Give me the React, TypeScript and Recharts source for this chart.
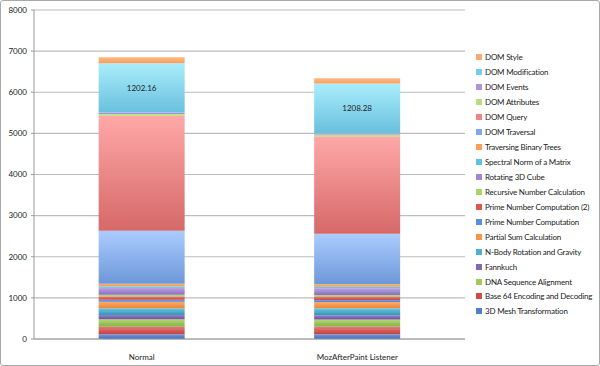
import React from 'react';
import { BarChart, Bar, XAxis, YAxis, CartesianGrid, Legend, LabelList } from 'recharts';

const categories = ['Normal', 'MozAfterPaint Listener'];

// stacked from the bottom up
const seriesNames = [
  '3D Mesh Transformation',
  'Base 64 Encoding and Decoding',
  'DNA Sequence Alignment',
  'Fannkuch',
  'N-Body Rotation and Gravity',
  'Partial Sum Calculation',
  'Prime Number Computation',
  'Prime Number Computation (2)',
  'Recursive Number Calculation',
  'Rotating 3D Cube',
  'Spectral Norm of a Matrix',
  'Traversing Binary Trees',
  'DOM Traversal',
  'DOM Query',
  'DOM Attributes',
  'DOM Events',
  'DOM Modification',
  'DOM Style',
];

const normalValues = [115, 185, 180, 105, 165, 155, 50, 80, 40, 170, 35, 65, 1290, 2791, 48, 32, 1202.16, 145];
const mozValues = [115, 180, 180, 105, 165, 155, 50, 80, 40, 165, 35, 60, 1230, 2362, 49, 33, 1208.28, 131];

const yTicks = [0, 1000, 2000, 3000, 4000, 5000, 6000, 7000, 8000];

// [top, bottom, legend]
const colors: [string, string, string][] = [
  ['#6f9be0', '#3f6cb8', '#4f7fcc'],
  ['#e67a78', '#c2403e', '#d24a48'],
  ['#b3d874', '#86b048', '#9ccb5a'],
  ['#9c82c8', '#6c4f9e', '#8467b4'],
  ['#6cc6e2', '#3195b6', '#4cb0d2'],
  ['#fbab6c', '#ee8436', '#f5954a'],
  ['#7aa6ec', '#4b7ed0', '#5b8ee0'],
  ['#ee7a78', '#d04442', '#e05452'],
  ['#bde284', '#94c456', '#a8d46a'],
  ['#bca4e4', '#8c6cc4', '#a086d4'],
  ['#86d8f0', '#4ab2d4', '#5cc2e2'],
  ['#ffb47a', '#f59448', '#f9a058'],
  ['#acccff', '#6c98d8', '#7ea8ea'],
  ['#ffa8a8', '#d66868', '#ec8686'],
  ['#cce898', '#acd478', '#b8dc84'],
  ['#bea8e8', '#9c84cc', '#ac96da'],
  ['#aaedfb', '#68c0de', '#74cceb'],
  ['#ffb984', '#f7a160', '#f9aa70'],
];

const data = categories.map((name, i) => {
  const vals = i === 0 ? normalValues : mozValues;
  const row: Record<string, string | number> = { name };
  seriesNames.forEach((s, j) => {
    row[s] = vals[j];
  });
  return row;
});

const font = 'Lato, "Open Sans", sans-serif';

const renderLegend = () => (
  <div style={{ fontFamily: font, fontSize: 8, color: '#222', letterSpacing: -0.2 }}>
    {seriesNames
      .map((s, j) => ({ s, c: colors[j][2] }))
      .reverse()
      .map(({ s, c }) => (
        <div key={s} style={{ height: 14.95, display: 'flex', alignItems: 'center', whiteSpace: 'nowrap' }}>
          <span style={{ width: 6, height: 6, background: c, display: 'inline-block', marginRight: 3 }} />
          {s}
        </div>
      ))}
  </div>
);

export default function App() {
  return (
    <div
      style={{
        position: 'relative',
        width: 600,
        height: 366,
        boxSizing: 'border-box',
        border: '1px solid #a8a8a8',
        borderRadius: 3,
        background: '#fff',
        overflow: 'hidden',
      }}
    >
      <style>{'body{margin:0}'}</style>
      <BarChart
        width={598}
        height={364}
        data={data}
        margin={{ top: 9, right: 9, bottom: 6, left: 0 }}
        barCategoryGap="30%"
      >
        <defs>
          {colors.map(([top, bottom], j) => (
            <linearGradient key={j} id={`g${j}`} x1="0" y1="0" x2="0" y2="1">
              <stop offset="0%" stopColor={top} />
              <stop offset="100%" stopColor={bottom} />
            </linearGradient>
          ))}
        </defs>
        <CartesianGrid vertical={false} stroke="#bcbcbc" strokeWidth={1.2} />
        <XAxis
          dataKey="name"
          height={20}
          tickLine={false}
          axisLine={{ stroke: '#9a9a9a' }}
          tick={{ fontFamily: font, fontSize: 8, fill: '#222' }}
          tickMargin={9}
        />
        <YAxis
          width={33}
          domain={[0, 8000]}
          ticks={yTicks}
          interval={0}
          axisLine={{ stroke: '#9a9a9a' }}
          tickLine={{ stroke: '#9a9a9a' }}
          tickSize={3}
          tickMargin={4}
          tick={{ fontFamily: font, fontSize: 8, fill: '#222' }}
        />
        <Legend
          layout="vertical"
          align="right"
          verticalAlign="top"
          content={renderLegend}
          wrapperStyle={{ top: 49, right: 0, left: 475, width: 125 }}
        />
        {seriesNames.map((s, j) => (
          <Bar key={s} dataKey={s} stackId="a" fill={`url(#g${j})`} isAnimationActive={false}>
            {s === 'DOM Modification' && (
              <LabelList
                dataKey={s}
                position="center"
                formatter={(v: any) => Number(v).toFixed(2)}
                style={{ fontFamily: font, fontSize: 8, fill: '#222' }}
              />
            )}
          </Bar>
        ))}
      </BarChart>
    </div>
  );
}
